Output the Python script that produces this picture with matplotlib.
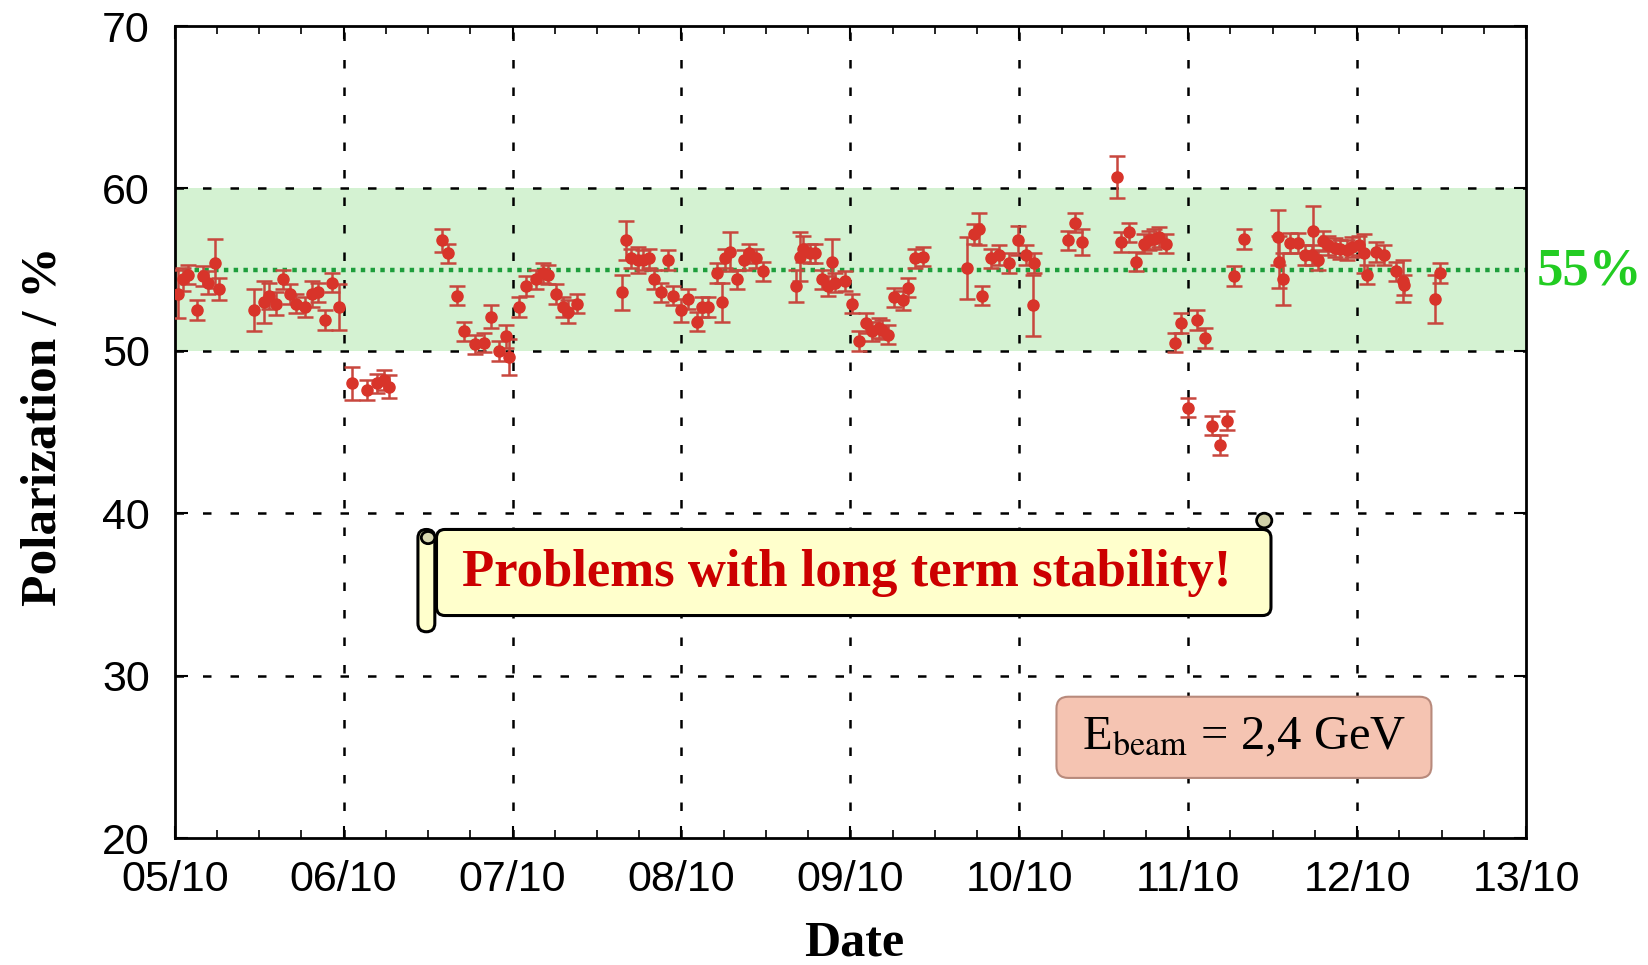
import numpy as np
import matplotlib
matplotlib.use("Agg")
import matplotlib.pyplot as plt
from matplotlib.patches import FancyBboxPatch, Ellipse

# Polarization measurements: days since 05/10, value (%), error (%)
days = [0.02, 0.05, 0.08, 0.13, 0.17, 0.20, 0.24, 0.26, 0.47, 0.53, 0.56, 0.60,
        0.64, 0.68, 0.72, 0.77, 0.81, 0.85, 0.89, 0.93, 0.97, 1.05, 1.14, 1.20,
        1.24, 1.27, 1.58, 1.62, 1.67, 1.71, 1.78, 1.83, 1.87, 1.92, 1.96, 1.98,
        2.04, 2.08, 2.14, 2.18, 2.21, 2.26, 2.30, 2.33, 2.38, 2.65, 2.67, 2.70,
        2.74, 2.77, 2.81, 2.84, 2.88, 2.92, 2.95, 3.00, 3.04, 3.09, 3.12, 3.16,
        3.21, 3.24, 3.26, 3.29, 3.33, 3.37, 3.40, 3.44, 3.48, 3.68, 3.70, 3.72,
        3.76, 3.79, 3.83, 3.87, 3.89, 3.91, 3.97, 4.01, 4.05, 4.09, 4.13, 4.17,
        4.19, 4.22, 4.26, 4.31, 4.34, 4.38, 4.43, 4.69, 4.73, 4.76, 4.78, 4.83,
        4.88, 4.94, 4.99, 5.04, 5.08, 5.09, 5.29, 5.33, 5.37, 5.58, 5.60, 5.65,
        5.69, 5.74, 5.77, 5.80, 5.83, 5.87, 5.92, 5.96, 6.00, 6.05, 6.10, 6.14,
        6.19, 6.23, 6.27, 6.33, 6.53, 6.54, 6.56, 6.60, 6.65, 6.69, 6.73, 6.74,
        6.77, 6.80, 6.83, 6.87, 6.90, 6.94, 6.97, 7.01, 7.04, 7.06, 7.11, 7.16,
        7.23, 7.27, 7.28, 7.46, 7.49]
pol = [53.5, 54.4, 54.7, 52.5, 54.6, 54.2, 55.4, 53.8, 52.5, 53.0, 53.4, 52.9,
       54.4, 53.5, 52.9, 52.7, 53.5, 53.6, 51.9, 54.2, 52.7, 48.0, 47.6, 48.0,
       48.2, 47.8, 56.8, 56.0, 53.4, 51.2, 50.4, 50.5, 52.1, 50.0, 50.9, 49.6,
       52.7, 54.0, 54.4, 54.8, 54.7, 53.5, 52.7, 52.4, 52.9, 53.6, 56.8, 55.7,
       55.6, 55.6, 55.7, 54.4, 53.6, 55.6, 53.4, 52.5, 53.2, 51.8, 52.7, 52.7,
       54.8, 53.0, 55.7, 56.1, 54.4, 55.6, 56.0, 55.7, 54.9, 54.0, 55.8, 56.3,
       56.0, 56.0, 54.4, 54.0, 55.5, 54.2, 54.3, 52.9, 50.6, 51.7, 51.2, 51.4,
       51.3, 51.0, 53.3, 53.1, 53.9, 55.7, 55.8, 55.1, 57.2, 57.5, 53.4, 55.7,
       55.9, 55.4, 56.8, 55.9, 52.8, 55.4, 56.8, 57.9, 56.7, 60.7, 56.7, 57.3,
       55.5, 56.6, 56.8, 56.9, 57.0, 56.6, 50.5, 51.7, 46.5, 51.9, 50.8, 45.4,
       44.2, 45.7, 54.6, 56.9, 57.0, 55.5, 54.4, 56.65, 56.65, 55.9, 55.9, 57.4,
       55.6, 56.75, 56.5, 56.35, 56.25, 56.2, 56.4, 56.5, 56.0, 54.7, 56.1, 55.9,
       54.9, 54.3, 54.05, 53.2, 54.8]
err = [1.5, 0.7, 0.6, 0.6, 0.6, 0.7, 1.5, 0.7, 1.3, 1.3, 0.8, 0.7,
       0.6, 0.6, 0.6, 0.6, 0.8, 0.6, 0.6, 0.6, 1.4, 1.0, 0.6, 0.6,
       0.6, 0.7, 0.7, 0.6, 0.6, 0.6, 0.6, 0.6, 0.7, 0.6, 0.7, 1.1,
       0.6, 0.6, 0.6, 0.6, 0.6, 0.6, 0.6, 0.7, 0.6, 1.1, 1.2, 0.6,
       0.8, 0.6, 0.6, 0.6, 0.6, 0.6, 0.6, 0.7, 0.6, 0.6, 0.6, 0.6,
       0.6, 1.2, 0.6, 1.2, 0.6, 0.6, 0.6, 0.6, 0.6, 1.0, 1.5, 0.8,
       0.6, 0.6, 0.6, 0.6, 1.4, 0.6, 0.6, 0.6, 0.6, 0.6, 0.6, 0.6,
       0.6, 0.6, 0.6, 0.6, 0.6, 0.6, 0.6, 1.9, 0.6, 1.0, 0.6, 0.6,
       0.6, 0.6, 0.9, 0.6, 1.9, 0.6, 0.6, 0.6, 0.8, 1.3, 0.6, 0.6,
       0.6, 0.6, 0.6, 0.6, 0.6, 0.6, 0.6, 0.6, 0.6, 0.6, 0.6, 0.6,
       0.6, 0.6, 0.6, 0.6, 1.7, 1.6, 1.6, 0.6, 0.6, 0.6, 0.6, 1.5,
       0.6, 0.6, 0.6, 0.6, 0.6, 0.6, 0.6, 0.6, 1.2, 0.6, 0.6, 0.6,
       0.6, 1.3, 0.6, 1.5, 0.6]

date_labels = ["05/10", "06/10", "07/10", "08/10", "09/10", "10/10", "11/10", "12/10", "13/10"]
y_ticks = [20, 30, 40, 50, 60, 70]
band = (50, 60)
target = 55

serif = ["Liberation Serif", "DejaVu Serif"]
sans = ["Liberation Sans", "DejaVu Sans"]
plt.rcParams["mathtext.fontset"] = "stix"

fig = plt.figure(figsize=(16.48, 9.65), dpi=100)
ax = fig.add_axes([0.106, 0.1316, 0.820, 0.8414])

ax.set_xlim(0, 8)
ax.set_ylim(20, 70)

# green band + target line
ax.axhspan(band[0], band[1], color="#d4f2d2", zorder=0, lw=0)
ax.axhline(target, color="#1e9e3c", lw=3.2, ls=(0, (1, 1.2)), zorder=2)

# grid
dash = (0, (3.4, 7.6))
for xv in range(1, 8):
    ax.axvline(xv, color="black", lw=1.8, ls=dash, zorder=1)
for yv in y_ticks[1:-1]:
    ax.axhline(yv, color="black", lw=1.8, ls=dash, zorder=1)

ax.errorbar(days, pol, yerr=err, fmt="o", color="#d8342a", ms=8,
            ecolor="#c8473e", elinewidth=1.8, capsize=6, capthick=1.8, zorder=4)

ax.set_xticks(range(9))
ax.set_xticklabels(date_labels)
ax.set_xticks(np.arange(0, 8.01, 0.25), minor=True)
ax.set_yticks(y_ticks)
ax.tick_params(axis="both", which="major", direction="in", length=9, width=1.5,
               labelsize=31, top=True, right=True)
ax.tick_params(axis="x", which="major", pad=16)
ax.tick_params(axis="y", which="major", pad=18)
ax.tick_params(axis="x", which="minor", direction="in", length=6, width=1.2, top=True)
for lab in ax.get_xticklabels() + ax.get_yticklabels():
    lab.set_family(sans)
for sp in ax.spines.values():
    sp.set_linewidth(2)

fig.text(0.518, 1 - 943 / 965, "Date", ha="center", va="center",
         fontsize=36, fontweight="bold", family=serif)
fig.text(0.0265, 1 - 426 / 965, "Polarization / %", ha="center", va="center",
         rotation=90, fontsize=37, fontweight="bold", family=serif)

# 55% label
ax.text(1.008, 54.9, "55%", transform=ax.get_yaxis_transform(), ha="left", va="center",
        fontsize=38, fontweight="bold", color="#22cc22", family=serif, clip_on=False)

# scroll banner
asp = 169.3 / 16.24
ax.add_patch(FancyBboxPatch((1.55, 33.7), 4.94, 5.3,
                            boxstyle="round,pad=0,rounding_size=0.05", mutation_aspect=asp,
                            fc="#ffffcc", ec="black", lw=2.2, zorder=6))
ax.add_patch(FancyBboxPatch((1.44, 32.7), 0.10, 6.3,
                            boxstyle="round,pad=0,rounding_size=0.05", mutation_aspect=asp,
                            fc="#ffffcc", ec="black", lw=2.2, zorder=7))
ax.add_patch(Ellipse((1.50, 38.5), 0.08, 0.75, fc="#d8d8b0", ec="black", lw=2, zorder=8))
ax.add_patch(Ellipse((6.45, 39.55), 0.09, 0.9, fc="#d0d0a8", ec="black", lw=2, zorder=7))
ax.text(3.98, 36.3, "Problems with long term stability!", ha="center", va="center",
        fontsize=38, fontweight="bold", color="#cc0000", family=serif, zorder=9)

# beam energy box
ax.add_patch(FancyBboxPatch((5.22, 23.7), 2.22, 5.0,
                            boxstyle="round,pad=0,rounding_size=0.07", mutation_aspect=asp,
                            fc="#f5c4b2", ec="#b88a7c", lw=1.5, zorder=6))
ax.text(6.33, 26.2, r"E$_{\mathrm{beam}}$ = 2,4 GeV", ha="center", va="center",
        fontsize=35, family=serif, zorder=9)

fig.savefig("out.png", dpi=100)
